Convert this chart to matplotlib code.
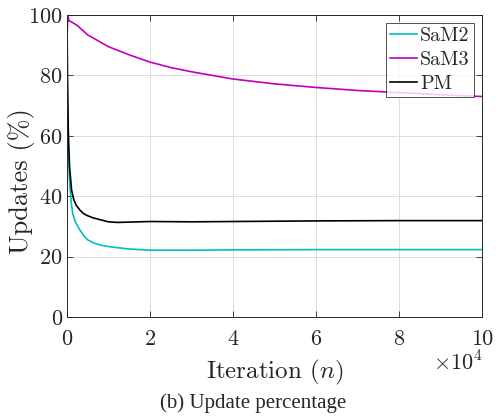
import numpy as np
import matplotlib.pyplot as plt
from matplotlib.ticker import FuncFormatter

plt.rcParams['font.family'] = 'cmr10'
plt.rcParams['mathtext.fontset'] = 'cm'
plt.rcParams['axes.formatter.use_mathtext'] = True
plt.rcParams['text.color'] = '#262626'
plt.rcParams['axes.labelcolor'] = '#262626'
plt.rcParams['xtick.labelcolor'] = '#262626'
plt.rcParams['ytick.labelcolor'] = '#262626'

###############################################################################
# values (iterations, percent)

iters_sam2 = [0, 100, 300, 600, 1000, 1400, 2000, 3100, 4000, 5000, 6300, 8000,
              11000, 15000, 20000, 30000, 40000, 60000, 80000, 100000]
sam2 = [100, 75, 55, 45, 38, 34, 31.5, 28.8, 27, 25.5, 24.6, 23.8,
        23.1, 22.5, 22.1, 22.1, 22.2, 22.3, 22.3, 22.3]

iters_sam3 = [0, 200, 500, 1000, 2500, 5000, 10000, 15000, 20000, 25000,
              30000, 40000, 50000, 60000, 70000, 80000, 90000, 100000]
sam3 = [92, 100, 98, 97.8, 96.5, 93.4, 89.5, 86.8, 84.4, 82.6,
        81.2, 78.8, 77.2, 76.0, 75.0, 74.3, 73.6, 73.0]

iters_pm = [0, 100, 300, 600, 1100, 1600, 2200, 3100, 4000, 5000, 6300, 8000,
            10000, 12000, 15000, 20000, 30000, 40000, 60000, 80000, 100000]
pm = [100, 80, 62, 50, 42, 39, 37, 35.4, 34.2, 33.5, 32.8, 32.2,
      31.5, 31.3, 31.4, 31.6, 31.5, 31.6, 31.8, 31.9, 31.9]

###############################################################################

fig = plt.figure(figsize=(5.02, 4.17), dpi=100)
ax = fig.add_axes([0.1335, 0.240, 0.8265, 0.724])

ax.plot(iters_sam2, sam2, color='#00BFBF', lw=1.2, label='SaM2')
ax.plot(iters_sam3, sam3, color='#BF00BF', lw=1.2, label='SaM3')
ax.plot(iters_pm, pm, color='black', lw=1.2, label='PM')

ax.set_xlim(0, 100000)
ax.set_ylim(0, 100)
ax.set_xticks(np.arange(0, 100001, 20000))
ax.set_yticks(np.arange(0, 101, 20))
ax.xaxis.set_major_formatter(FuncFormatter(lambda v, p: f'{v/1e4:g}'))
ax.tick_params(direction='in', top=True, right=True, labelsize=16, length=4,
               width=0.6, color='#262626')
ax.tick_params(axis='x', pad=9)
ax.tick_params(axis='y', pad=3)
ax.grid(True, color='#DCDCDC', lw=0.7)
for s in ax.spines.values():
    s.set_linewidth(0.7)
    s.set_color('#262626')

ax.set_xlabel('Iteration ($n$)', fontsize=18)
ax.xaxis.set_label_coords(0.5, -0.135)
ax.set_ylabel('Updates (%)', fontsize=19)
ax.yaxis.set_label_coords(-0.077, 0.45)
fig.text(0.962, 0.13, r'$\times10^4$', fontsize=16, ha='right', va='center')

leg = ax.legend(loc='upper right', fontsize=14.5, frameon=True, fancybox=False,
                handlelength=1.35, handletextpad=0.15, borderpad=0.2,
                labelspacing=0.3, borderaxespad=0.4, edgecolor='#262626')
leg.get_frame().set_linewidth(0.7)

fig.text(0.504, 0.033, '(b) Update percentage', fontsize=15,
         family='Liberation Serif', ha='center', va='center')

fig.savefig('out.png', dpi=100)
